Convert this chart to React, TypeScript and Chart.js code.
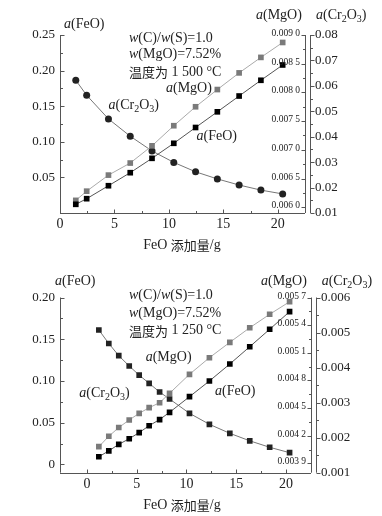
import React, { useEffect, useRef } from 'react';
import { Chart, registerables } from 'chart.js';
Chart.register(...registerables);

// ---------- Chart 1 : 1 500 °C ----------
const feoAdded1500 = [1.45, 2.45, 4.45, 6.45, 8.45, 10.45, 12.45, 14.45, 16.45, 18.45, 20.45];
const aFeO1500 = [0.0122, 0.0201, 0.0383, 0.0566, 0.0768, 0.0979, 0.1201, 0.1421, 0.1643, 0.1864, 0.2079];
const aMgO1500 = [0.00612, 0.00628, 0.00656, 0.00677, 0.00707, 0.00742, 0.00775, 0.00805, 0.00834, 0.00861, 0.00887];
const aCr2O31500 = [0.0622, 0.0563, 0.047, 0.0402, 0.0344, 0.0299, 0.0262, 0.0234, 0.021, 0.019, 0.0175];

const feoTicks1500 = [0.05, 0.1, 0.15, 0.2, 0.25];
const feoLabels1500 = ['0.05', '0.10', '0.15', '0.20', '0.25'];
const mgoTicks1500 = [0.006, 0.0065, 0.007, 0.0075, 0.008, 0.0085, 0.009];
const mgoLabels1500 = ['0.006 0', '0.006 5', '0.007 0', '0.007 5', '0.008 0', '0.008 5', '0.009 0'];
const crTicks1500 = [0.01, 0.02, 0.03, 0.04, 0.05, 0.06, 0.07, 0.08];
const crLabels1500 = ['0.01', '0.02', '0.03', '0.04', '0.05', '0.06', '0.07', '0.08'];

// ---------- Chart 2 : 1 250 °C ----------
const feoAdded1250 = [1.2, 2.2, 3.2, 4.25, 5.25, 6.25, 7.3, 8.3, 10.3, 12.3, 14.35, 16.35, 18.35, 20.35];
const aFeO1250 = [0.0091, 0.0162, 0.024, 0.0307, 0.0381, 0.0463, 0.0537, 0.0624, 0.0811, 0.0999, 0.1203, 0.141, 0.1619, 0.183];
const aMgO1250 = [0.004082, 0.004195, 0.00429, 0.004372, 0.004444, 0.004505, 0.004559, 0.004661, 0.004867, 0.005047, 0.005214, 0.005372, 0.005518, 0.005654];
const aCr2O31250 = [0.005073, 0.004687, 0.004339, 0.004045, 0.003783, 0.003551, 0.003303, 0.003103, 0.002695, 0.002381, 0.002124, 0.00191, 0.001725, 0.001571];

const feoTicks1250 = [0, 0.05, 0.1, 0.15, 0.2];
const feoLabels1250 = ['0', '0.05', '0.10', '0.15', '0.20'];
const mgoTicks1250 = [0.0039, 0.0042, 0.0045, 0.0048, 0.0051, 0.0054, 0.0057];
const mgoLabels1250 = ['0.003 9', '0.004 2', '0.004 5', '0.004 8', '0.005 1', '0.005 4', '0.005 7'];
const crTicks1250 = [0.001, 0.002, 0.003, 0.004, 0.005, 0.006];
const crLabels1250 = ['0.001', '0.002', '0.003', '0.004', '0.005', '0.006'];

const xTicks = [0, 5, 10, 15, 20];
const xLabels = ['0', '5', '10', '15', '20'];
const xTitle = 'FeO 添加量/g';

const SERIF = '"Liberation Serif", "DejaVu Serif", serif';
const CJK = '"Noto Sans CJK SC", "Noto Sans CJK JP", sans-serif';
const TXT = '#222';
const AXIS = '#555';

type Seg = { t: string; it: boolean; sub: boolean; cjk: boolean };
const isCJK = (c: string) => /[\u3000-\u9fff\uff00-\uffef]/.test(c);

function parse(str: string): Seg[] {
  const segs: Seg[] = [];
  let it = false;
  let buf = '';
  let bufCjk = false;
  const push = () => {
    if (buf) segs.push({ t: buf, it, sub: false, cjk: bufCjk });
    buf = '';
  };
  for (let i = 0; i < str.length; i++) {
    const c = str[i];
    if (c === '*') {
      push();
      it = !it;
    } else if (c === '_') {
      push();
      segs.push({ t: str[i + 1], it, sub: true, cjk: false });
      i++;
    } else {
      const cj = isCJK(c);
      if (buf && cj !== bufCjk) push();
      bufCjk = cj;
      buf += c;
    }
  }
  push();
  return segs;
}

function rich(ctx: CanvasRenderingContext2D, str: string, x: number, y: number, size: number, align = 'left') {
  const segs = parse(str);
  ctx.textBaseline = 'middle';
  ctx.textAlign = 'left';
  ctx.fillStyle = TXT;
  const fontOf = (s: Seg) =>
    `${s.it ? 'italic ' : ''}${s.sub ? Math.round(size * 0.72) : s.cjk ? size - 1 : size}px ${s.cjk ? CJK : SERIF}`;
  let w = 0;
  for (const s of segs) {
    ctx.font = fontOf(s);
    w += ctx.measureText(s.t).width;
  }
  let cx = align === 'center' ? x - w / 2 : x;
  for (const s of segs) {
    ctx.font = fontOf(s);
    ctx.fillText(s.t, cx, y + (s.sub ? size * 0.28 : 0));
    cx += ctx.measureText(s.t).width;
  }
}

function yAxis(
  ctx: CanvasRenderingContext2D,
  scale: any,
  x: number,
  top: number,
  bottom: number,
  ticks: number[],
  labels: string[],
  dir: number,
  align: CanvasTextAlign,
  lx: number,
  size: number,
  dy: number
) {
  ctx.strokeStyle = AXIS;
  ctx.lineWidth = 1;
  const xx = Math.round(x) + 0.5;
  ctx.beginPath();
  ctx.moveTo(xx, top);
  ctx.lineTo(xx, bottom);
  ctx.stroke();
  ctx.beginPath();
  ticks.forEach((v, i) => {
    const y = Math.round(scale.getPixelForValue(v)) + 0.5;
    ctx.moveTo(xx, y);
    ctx.lineTo(xx + dir * 4, y);
    if (i < ticks.length - 1) {
      const ym = Math.round(scale.getPixelForValue((v + ticks[i + 1]) / 2)) + 0.5;
      ctx.moveTo(xx, ym);
      ctx.lineTo(xx + dir * 2.5, ym);
    }
  });
  ctx.stroke();
  ctx.fillStyle = TXT;
  ctx.font = `${size}px ${SERIF}`;
  ctx.textAlign = align;
  ctx.textBaseline = 'middle';
  ticks.forEach((v, i) => {
    ctx.fillText(labels[i], lx, scale.getPixelForValue(v) + dy);
  });
}

type Txt = { s: string; x: number; y: number; size: number; align?: string };
type Params = {
  xs: number[];
  feo: number[];
  mgo: number[];
  cr: number[];
  xMin: number;
  xMax: number;
  feoMin: number;
  feoMax: number;
  mgoMin: number;
  mgoMax: number;
  crMin: number;
  crMax: number;
  feoTicks: number[];
  feoLabels: string[];
  mgoTicks: number[];
  mgoLabels: string[];
  crTicks: number[];
  crLabels: string[];
  padding: { left: number; right: number; top: number; bottom: number };
  crMarker: string;
  texts: Txt[];
  xLabelY: number;
  titleY: number;
};

function makeConfig(p: Params): any {
  const pts = (ys: number[]) => p.xs.map((x, i) => ({ x, y: ys[i] }));
  const framePlugin = {
    id: 'frame',
    afterDatasetsDraw(chart: any) {
      const ctx: CanvasRenderingContext2D = chart.ctx;
      const a = chart.chartArea;
      ctx.save();
      yAxis(ctx, chart.scales.yFeO, a.left, a.top, a.bottom, p.feoTicks, p.feoLabels, 1, 'right', a.left - 5, 13, 0);
      yAxis(ctx, chart.scales.yMgO, a.right, a.top, a.bottom, p.mgoTicks, p.mgoLabels, -1, 'right', a.right - 5, 9.5, -1.5);
      yAxis(ctx, chart.scales.yCr, a.right + 5, a.top, a.bottom, p.crTicks, p.crLabels, 1, 'left', a.right + 10, 13, 0);
      // x axis
      const xs = chart.scales.x;
      const yb = Math.round(a.bottom) + 0.5;
      ctx.strokeStyle = AXIS;
      ctx.beginPath();
      ctx.moveTo(a.left, yb);
      ctx.lineTo(a.right, yb);
      xTicks.forEach((v) => {
        const px = Math.round(xs.getPixelForValue(v)) + 0.5;
        ctx.moveTo(px, yb);
        ctx.lineTo(px, yb - 4);
        const pm = Math.round(xs.getPixelForValue(v + 2.5)) + 0.5;
        if (v + 2.5 < p.xMax) {
          ctx.moveTo(pm, yb);
          ctx.lineTo(pm, yb - 2.5);
        }
      });
      ctx.stroke();
      ctx.fillStyle = TXT;
      ctx.font = `14px ${SERIF}`;
      ctx.textAlign = 'center';
      ctx.textBaseline = 'middle';
      xTicks.forEach((v, i) => ctx.fillText(xLabels[i], xs.getPixelForValue(v), p.xLabelY));
      rich(ctx, xTitle, 182, p.titleY, 14, 'center');
      p.texts.forEach((t) => rich(ctx, t.s, t.x, t.y, t.size, t.align || 'left'));
      ctx.restore();
    },
  };
  return {
    type: 'line',
    data: {
      datasets: [
        {
          data: pts(p.feo),
          yAxisID: 'yFeO',
          borderColor: '#555',
          borderWidth: 1,
          pointStyle: 'rect',
          pointRadius: 4,
          pointBackgroundColor: '#000',
          pointBorderWidth: 0,
        },
        {
          data: pts(p.mgo),
          yAxisID: 'yMgO',
          borderColor: '#aaa',
          borderWidth: 1,
          pointStyle: 'rect',
          pointRadius: 4,
          pointBackgroundColor: '#7a7a7a',
          pointBorderWidth: 0,
        },
        {
          data: pts(p.cr),
          yAxisID: 'yCr',
          borderColor: '#777',
          borderWidth: 1,
          pointStyle: p.crMarker,
          pointRadius: p.crMarker === 'circle' ? 3.5 : 4,
          pointBackgroundColor: '#222',
          pointBorderWidth: 0,
        },
      ],
    },
    options: {
      animation: false,
      responsive: false,
      devicePixelRatio: 1,
      events: [],
      layout: { padding: p.padding },
      plugins: { legend: { display: false }, tooltip: { enabled: false } },
      elements: { line: { tension: 0 } },
      scales: {
        x: { type: 'linear', min: p.xMin, max: p.xMax, display: false },
        yFeO: { type: 'linear', position: 'left', min: p.feoMin, max: p.feoMax, display: false },
        yMgO: { type: 'linear', position: 'right', min: p.mgoMin, max: p.mgoMax, display: false },
        yCr: { type: 'linear', position: 'right', min: p.crMin, max: p.crMax, display: false },
      },
    },
    plugins: [framePlugin],
  };
}

const params1500: Params = {
  xs: feoAdded1500,
  feo: aFeO1500,
  mgo: aMgO1500,
  cr: aCr2O31500,
  xMin: 0,
  xMax: 22.5,
  feoMin: 0,
  feoMax: 0.25,
  mgoMin: 0.0059,
  mgoMax: 0.009,
  crMin: 0.01,
  crMax: 0.08,
  feoTicks: feoTicks1500,
  feoLabels: feoLabels1500,
  mgoTicks: mgoTicks1500,
  mgoLabels: mgoLabels1500,
  crTicks: crTicks1500,
  crLabels: crLabels1500,
  padding: { left: 60, right: 77, top: 35, bottom: 45 },
  crMarker: 'circle',
  xLabelY: 224,
  titleY: 245,
  texts: [
    { s: '*a*(FeO)', x: 64, y: 24, size: 14 },
    { s: '*a*(MgO)', x: 256, y: 15, size: 14 },
    { s: '*a*(Cr_2O_3)', x: 316, y: 15, size: 14 },
    { s: '*w*(C)/*w*(S)=1.0', x: 129, y: 38, size: 14 },
    { s: '*w*(MgO)=7.52%', x: 129, y: 54.5, size: 14 },
    { s: '温度为 1 500 °C', x: 129, y: 72, size: 14 },
    { s: '*a*(MgO)', x: 166, y: 88.5, size: 14 },
    { s: '*a*(Cr_2O_3)', x: 108.5, y: 105.5, size: 14 },
    { s: '*a*(FeO)', x: 196.5, y: 136.5, size: 14 },
  ],
};

const params1250: Params = {
  xs: feoAdded1250,
  feo: aFeO1250,
  mgo: aMgO1250,
  cr: aCr2O31250,
  xMin: -2.7,
  xMax: 22.5,
  feoMin: -0.01,
  feoMax: 0.2,
  mgoMin: 0.0038,
  mgoMax: 0.0057,
  crMin: 0.001,
  crMax: 0.006,
  feoTicks: feoTicks1250,
  feoLabels: feoLabels1250,
  mgoTicks: mgoTicks1250,
  mgoLabels: mgoLabels1250,
  crTicks: crTicks1250,
  crLabels: crLabels1250,
  padding: { left: 60, right: 71, top: 39.5, bottom: 43.3 },
  crMarker: 'rect',
  xLabelY: 226.3,
  titleY: 247,
  texts: [
    { s: '*a*(FeO)', x: 55, y: 23.7, size: 14 },
    { s: '*a*(MgO)', x: 261, y: 23.7, size: 14 },
    { s: '*a*(Cr_2O_3)', x: 321.7, y: 23.7, size: 14 },
    { s: '*w*(C)/*w*(S)=1.0', x: 129, y: 37.7, size: 14 },
    { s: '*w*(MgO)=7.52%', x: 129, y: 55.3, size: 14 },
    { s: '温度为 1 250 °C', x: 129, y: 72.7, size: 14 },
    { s: '*a*(MgO)', x: 145.7, y: 99.3, size: 14 },
    { s: '*a*(Cr_2O_3)', x: 79.3, y: 135.3, size: 14 },
    { s: '*a*(FeO)', x: 215, y: 133.7, size: 14 },
  ],
};

function ChartCanvas({ params, top }: { params: Params; top: number }) {
  const ref = useRef<HTMLCanvasElement>(null);
  useEffect(() => {
    const chart = new Chart(ref.current as HTMLCanvasElement, makeConfig(params));
    return () => chart.destroy();
  }, [params]);
  return (
    <canvas
      ref={ref}
      width={382}
      height={258}
      style={{ position: 'absolute', left: 0, top, width: 382, height: 258 }}
    />
  );
}

export default function App() {
  return (
    <div style={{ position: 'absolute', left: 0, top: 0, width: 382, height: 516, background: '#fff' }}>
      <ChartCanvas params={params1500} top={0} />
      <ChartCanvas params={params1250} top={258} />
    </div>
  );
}
